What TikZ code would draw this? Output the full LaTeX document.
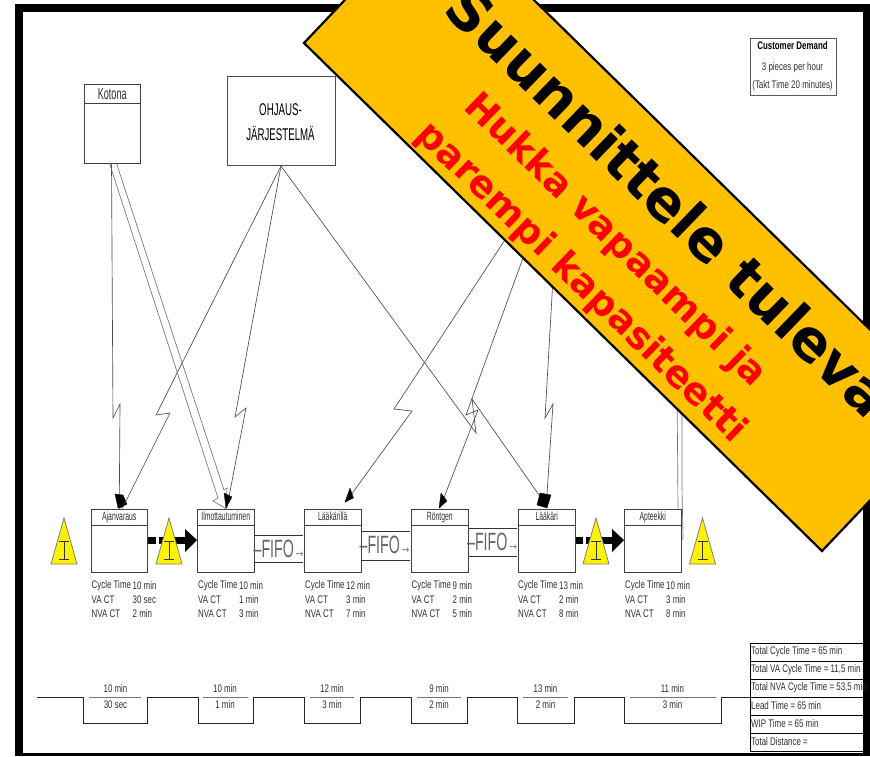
\documentclass[tikz,border=0pt]{standalone}
\usepackage{fontspec}
\setmainfont[FakeStretch=0.72]{Liberation Sans}
\newfontfamily\narrowfont[FakeStretch=0.57]{Liberation Sans}
\newfontfamily\bannerfont{DejaVu Sans}
\usetikzlibrary{calc}
\definecolor{banner}{RGB}{255,192,0}
\definecolor{txt}{RGB}{50,45,55}
\tikzset{
  x=1pt,y=-1pt,
  small/.style={font=\fontsize{11}{12}\selectfont,text=txt,inner sep=0pt},
  proc/.style={draw=black!75,line width=1pt,fill=white,minimum width=56.5pt,minimum height=63.5pt,inner sep=0pt,anchor=north west},
  ptitle/.style={draw=black!75,line width=1pt,fill=white,minimum width=56.5pt,minimum height=16pt,inner sep=0pt,anchor=north west,font=\narrowfont\fontsize{12}{12}\selectfont,text=txt,text height=8.5pt,text depth=2.5pt},
  ltn/.style={draw=black!70,line width=.65pt},
  dbl/.style={draw=black!55,line width=.65pt},
  ahead/.style={fill=black,draw=black,line width=.3pt,line join=round},
  tri/.style={fill=yellow,draw=black!50,line width=.8pt,line join=miter},
  ibar/.style={draw=black!80,line width=.8pt},
  fifo/.style={font=\narrowfont\fontsize{25}{25}\selectfont,text=black!60,inner sep=0pt},
  fline/.style={draw=black!80,line width=1pt},
  push/.style={draw=black,line width=7pt},
  tl/.style={draw=black!85,line width=.9pt},
  tlg/.style={draw=black!55,line width=.8pt},
  sumrow/.style={draw=black,line width=.9pt,fill=white,minimum width=113.5pt,minimum height=18pt,inner sep=0pt,anchor=north west},
  sumtxt/.style={small,anchor=west},
}
\newcommand{\datablock}[5]{%
  \node[small,anchor=west] (#1a) at (#2,586) {Cycle Time};
  \node[small,anchor=west] (#1b) at (#2,600) {VA CT};
  \node[small,anchor=west] (#1c) at (#2,613.5) {NVA CT};
  \node[small,anchor=west] (#1d) at ($(#2,586)+(41,0)$) {#3};
  \node[small,anchor=west] (#1e) at ($(#2,600)+(41,0)$) {#4};
  \node[small,anchor=west] (#1f) at ($(#2,613.5)+(41,0)$) {#5};
}
\newcommand{\inventory}[2]{%
  \fill[tri] (#2-13,564) -- (#2,518) -- (#2+13,564) -- cycle;
  \draw[ibar] (#2,541) -- (#2,559) (#2-5,541) -- (#2+5,541) (#2-5,559) -- (#2+5,559);
}
\newcommand{\fifotext}{–FIFO{\fontsize{20}{20}\selectfont→}}
\begin{document}
\begin{tikzpicture}
\useasboundingbox (0,0) rectangle (870,756);
\fill[white] (0,0) rectangle (870,756);
% frame
\fill[black] (15,4) rectangle (870,756);
\fill[white] (23,11.5) rectangle (863,753);

% source boxes
\node[proc,minimum height=78.5pt] (kotona) at (83.5,84) {};
\node[ptitle,minimum height=19pt,font=\narrowfont\fontsize{16}{16}\selectfont,text height=11.5pt,text depth=0pt] (kotonat) at (83.5,84) {Kotona};
\node[draw=black!70,line width=1pt,fill=white,minimum width=108pt,minimum height=89pt,anchor=north west,inner sep=0pt] (ohjaus) at (226.5,76) {};
\node[inner sep=0pt,align=center,font=\narrowfont\fontsize{17}{25}\selectfont,text=black] (ohjaust) at (280.5,122.5) {OHJAUS-\\JÄRJESTELMÄ};

% process boxes
\node[proc] (ajan) at (90.5,508.5) {};
\node[ptitle] (ajant) at (90.5,508.5) {Ajanvaraus};
\node[proc] (ilmo) at (197,508.5) {};
\node[ptitle] (ilmot) at (197,508.5) {Ilmottautuminen};
\node[proc] (laak1) at (304,508.5) {};
\node[ptitle] (laak1t) at (304,508.5) {Lääkärillä};
\node[proc] (ront) at (411,508.5) {};
\node[ptitle] (rontt) at (411,508.5) {Röntgen};
\node[proc] (laak2) at (518,508.5) {};
\node[ptitle] (laak2t) at (518,508.5) {Lääkäri};
\node[proc] (apt) at (624,508.5) {};
\node[ptitle] (aptt) at (624,508.5) {Apteekki};

% source hidden under the banner
\coordinate (hid) at (560,156);

% lightning connectors
\draw[ltn] ([xshift=-.75pt]kotona.south) -- (113,418) -- (120,404) -- (ajan.north);
\fill[ahead] (115,494) -- (123,495) -- (127,504) -- (120,508) -- (118,508) -- cycle;
\draw[ltn] (ohjaus.south) -- (156,415) -- (170,413) -- ([xshift=3pt]ajan.north);

\draw[dbl] ([xshift=-2.75pt]kotona.south) -- (218,498) -- (213,501) -- (ilmo.north) -- (227,488) -- (224,490) -- ([xshift=4.25pt]kotona.south);
\draw[ltn] (ohjaus.south) -- (235,417) -- (246,408) -- ([xshift=1pt]ilmo.north);
\fill[ahead] (224,493) -- (232,497) -- (226,508) -- cycle;

\draw[ltn] (hid) -- (394,409) -- (412,411) -- ([xshift=12.75pt,yshift=6pt]laak1.north);
\fill[ahead] (350,488) -- (353.5,498) -- (345,502) -- cycle;

\draw[ltn] (hid) -- (466,415) -- (478,410) -- (ront.north);
\fill[ahead] (441,493) -- (447,501) -- (439,508) -- cycle;

\draw[ltn] (ohjaus.south) -- (476,433) -- (472,399) -- ([xshift=-6pt,yshift=11pt]laak2.north);
\draw[ltn] (hid) -- (545,418) -- (553,404) -- ([yshift=11pt]laak2.north);
\fill[ahead] (540,493) -- (551,495) -- (547,508) -- (537,505) -- cycle;

% double line from Apteekki upward
\coordinate (aptup1) at (677,380);
\coordinate (aptup2) at (682,380);
\draw[dbl] (aptup1) -- ([xshift=-3.5pt]apt.north east);
\draw[dbl] (aptup2) -- (682,487) -- (683,539) -- (apt.east |- 0,539);

% FIFO lanes
\draw[fline] (255,535) -- (303,535) (255,562) -- (303,562);
\node[fifo] (f1) at (279.5,548.5) {\fifotext};
\draw[fline] (361,531) -- (410,531) (361,560) -- (410,560);
\node[fifo] (f2) at (385.5,545) {\fifotext};
\draw[fline] (469,528) -- (517,528) (469,556) -- (517,556);
\node[fifo] (f3) at (493,542) {\fifotext};

% push arrows
\draw[push] (ajan.east |- 0,540) -- (156,540);
\draw[push] (159,540) -- (186,540);
\fill[black] (185,529) -- (ilmo.west |- 0,540) -- (185,552) -- cycle;
\draw[push] (laak2.east |- 0,540) -- (583,540);
\draw[push] (586,540) -- (618,540);
\fill[black] (612,529) -- (apt.west |- 0,540) -- (612,552) -- cycle;

% inventory triangles
\inventory{i1}{64}
\inventory{i2}{169}
\inventory{i3}{596}
\inventory{i4}{702.5}

% data blocks
\datablock{da}{91.5}{10 min}{30 sec}{2 min}
\datablock{db}{198}{10 min}{1 min}{3 min}
\datablock{dc}{305}{12 min}{3 min}{7 min}
\datablock{dd}{411.5}{9 min}{2 min}{5 min}
\datablock{de}{518}{13 min}{2 min}{8 min}
\datablock{df}{625}{10 min}{3 min}{8 min}

% timeline
\draw[tl] (37,697) -- (83,697) -- (83,723) -- (147,723) -- (147,697) -- (198,697) -- (198,723) -- (253,723) -- (253,697) -- (304,697) -- (304,723) -- (360,723) -- (360,697) -- (411,697) -- (411,723) -- (467,723) -- (467,697) -- (517,697) -- (517,723) -- (574,723) -- (574,697) -- (624,697) -- (624,723) -- (721,723) -- (721,697) -- (749.5,697);
\draw[tlg] (89,697) -- (141,697) (203,697) -- (248,697) (310,697) -- (354,697) (417,697) -- (461,697) (523,697) -- (568,697) (630,697) -- (716,697);
\foreach \nm/\cx/\up/\lo in {a/115.5/10 min/30 sec, b/225/10 min/1 min, c/332/12 min/3 min, d/439/9 min/2 min, e/545.5/13 min/2 min, f/672.5/11 min/3 min}{
  \node[small] (tu\nm) at (\cx,688.5) {\up};
  \node[small] (tl\nm) at (\cx,705) {\lo};
}

% summary table
\foreach \nm/\yy/\tx in {a/643/Total Cycle Time = 65 min, b/661/Total VA Cycle Time = 11{,}5 min, c/679/Total NVA Cycle Time = 53{,}5 min, d/697/Lead Time = 65 min, e/715/WIP Time = 65 min, f/733/Total Distance =}{
  \node[sumrow] (s\nm) at (749.5,\yy) {};
  \node[sumtxt] (st\nm) at (751,\yy+9) {\tx};
}

% customer demand
\node[draw=black!65,line width=1pt,fill=white,minimum width=85.5pt,minimum height=57pt,anchor=north west,inner sep=0pt] (cust) at (750,38) {};
\node[small,font=\bfseries\fontsize{11}{12}\selectfont,text=black] (cust1) at (792.5,46) {Customer Demand};
\node[small] (cust2) at (792.5,67.5) {3 pieces per hour};
\node[small] (cust3) at (792.5,85.5) {(Takt Time 20 minutes)};

% banner
\begin{scope}
\clip (0,0) rectangle (870,756);
\fill[banner,draw=black,line width=2.2pt,line join=miter] (304,43) -- (436,-96) -- (954,412) -- (822,551) -- cycle;
\node[font=\bannerfont\bfseries\fontsize{56.5}{57}\selectfont,text=black,rotate=-44,inner sep=0pt] (t1) at (669,201) {Suunnittele tuleva};
\node[font=\bannerfont\bfseries\fontsize{37.5}{38}\selectfont,text=red,rotate=-44,inner sep=0pt] (t2) at (615,241) {Hukka vapaampi ja};
\node[font=\bannerfont\bfseries\fontsize{37.5}{38}\selectfont,text=red,rotate=-44,inner sep=0pt] (t3) at (581,283) {parempi kapasiteetti};
\end{scope}
\end{tikzpicture}
\end{document}
